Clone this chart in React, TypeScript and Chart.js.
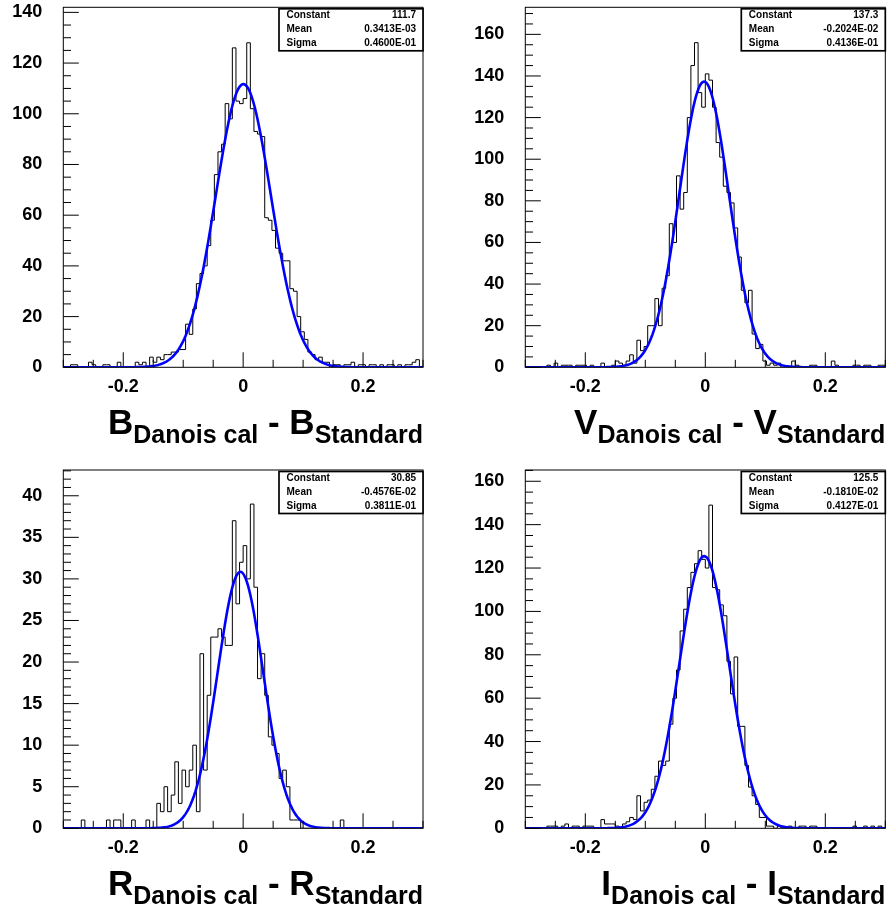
import React, { useEffect, useRef } from 'react';
import { Chart, registerables } from 'chart.js';

Chart.register(...registerables);

// ---------- data ----------
const X_MIN = -0.3;
const X_MAX = 0.3;
const X_TICKS = [-0.2, 0, 0.2];
const STAT_NAMES = ['Constant', 'Mean', 'Sigma'];
const SUB_LEFT = 'Danois cal';
const SUB_RIGHT = 'Standard';

const B_COUNTS = [
  0, 0, 1, 1, 0, 0, 0, 2, 1, 0,
  0, 1, 1, 0, 0, 2, 0, 0, 0, 0,
  2, 1, 2, 0, 4, 2, 4, 3, 5, 5,
  6, 6, 7, 7, 17, 13, 23, 33, 37, 40,
  48, 58, 76, 85, 88, 104, 98, 126, 105, 104,
  106, 128, 102, 93, 92, 91, 59, 58, 54, 47,
  45, 42, 42, 31, 30, 20, 14, 11, 6, 5,
  3, 4, 2, 2, 0, 1, 1, 0, 1, 1,
  2, 0, 1, 1, 0, 1, 1, 0, 1, 0,
  1, 1, 0, 1, 0, 1, 1, 2, 3, 0,
];
const V_COUNTS = [
  0, 0, 0, 0, 0, 0, 1, 0, 2, 0,
  1, 1, 1, 0, 1, 1, 1, 0, 1, 0,
  0, 2, 0, 0, 1, 3, 2, 1, 3, 6,
  2, 13, 8, 10, 20, 20, 33, 20, 38, 44,
  69, 60, 92, 76, 84, 120, 145, 156, 132, 125,
  141, 138, 125, 108, 101, 87, 84, 79, 67, 53,
  37, 31, 37, 16, 9, 11, 3, 1, 2, 1,
  2, 0, 0, 0, 3, 1, 0, 0, 0, 1,
  1, 0, 0, 0, 0, 3, 1, 0, 0, 0,
  0, 1, 1, 0, 1, 1, 0, 0, 1, 1,
];
const R_COUNTS = [
  0, 0, 0, 0, 0, 1, 0, 0, 0, 0,
  0, 0, 1, 0, 1, 1, 0, 0, 0, 1,
  0, 0, 0, 1, 0, 0, 3, 2, 5, 2,
  4, 8, 3, 7, 5, 7, 10, 2, 21, 7,
  16, 23, 23, 24, 23, 22, 22, 37, 27, 32,
  34, 30, 39, 29, 18, 21, 16, 11, 10, 9,
  6, 7, 5, 1, 1, 1, 0, 0, 0, 0,
  0, 0, 0, 0, 0, 0, 0, 1, 0, 0,
  0, 0, 0, 0, 0, 0, 0, 0, 0, 0,
  0, 0, 0, 0, 0, 0, 0, 0, 0, 0,
];
const I_COUNTS = [
  0, 0, 0, 0, 0, 0, 1, 1, 1, 0,
  1, 2, 0, 1, 1, 0, 1, 1, 1, 0,
  0, 4, 2, 2, 2, 1, 0, 2, 3, 5,
  4, 15, 8, 12, 13, 18, 24, 31, 29, 31,
  48, 60, 73, 91, 101, 111, 118, 122, 128, 124,
  120, 149, 111, 110, 103, 98, 77, 62, 79, 47,
  47, 29, 19, 15, 11, 5, 5, 1, 1, 0,
  1, 0, 0, 1, 0, 0, 1, 1, 0, 1,
  1, 0, 0, 0, 0, 0, 0, 0, 0, 0,
  0, 1, 0, 0, 1, 0, 1, 0, 1, 0,
];

// fit parameters: constant, mean, sigma
const B_FIT = [111.7, 0.3413e-3, 0.46e-1];
const V_FIT = [137.3, -0.2024e-2, 0.4136e-1];
const R_FIT = [30.85, -0.4576e-2, 0.3811e-1];
const I_FIT = [125.5, -0.181e-2, 0.4127e-1];

const B_STATS = ['111.7', '0.3413E-03', '0.4600E-01'];
const V_STATS = ['137.3', '-0.2024E-02', '0.4136E-01'];
const R_STATS = ['30.85', '-0.4576E-02', '0.3811E-01'];
const I_STATS = ['125.5', '-0.1810E-02', '0.4127E-01'];

const B_YTICKS = [0, 20, 40, 60, 80, 100, 120, 140];
const V_YTICKS = [0, 20, 40, 60, 80, 100, 120, 140, 160];
const R_YTICKS = [0, 5, 10, 15, 20, 25, 30, 35, 40];
const I_YTICKS = [0, 20, 40, 60, 80, 100, 120, 140, 160];

// ---------- rendering ----------
const FONT = '"Liberation Sans", Arial, sans-serif';

const decorPlugin = {
  id: 'decor',
  afterDraw(chart: any, _args: any, o: any) {
    const { ctx, chartArea: a, scales } = chart;
    const xs = scales.x;
    const ys = scales.y;
    ctx.save();
    ctx.strokeStyle = '#000';
    ctx.lineWidth = 1;
    ctx.strokeRect(a.left, a.top, a.right - a.left, a.bottom - a.top);

    ctx.beginPath();
    const nMinor = Math.round(o.yMajor / o.yMinor);
    for (let k = 0; k * o.yMinor <= o.yMax + 1e-9; k++) {
      const y = ys.getPixelForValue(k * o.yMinor);
      const len = k % nMinor === 0 ? 15.5 : 7.7;
      ctx.moveTo(a.left, y);
      ctx.lineTo(a.left + len, y);
    }
    for (let k = -6; k <= 6; k++) {
      const x = xs.getPixelForValue(k * 0.05);
      const len = k % 4 === 0 ? 15 : 7.5;
      ctx.moveTo(x, a.bottom);
      ctx.lineTo(x, a.bottom - len);
    }
    ctx.stroke();

    // stats box
    const bw = 144;
    const bh = 42;
    const bx = a.right - bw;
    const by = a.top + 1.5;
    ctx.fillStyle = '#fff';
    ctx.fillRect(bx, by, bw, bh);
    ctx.lineWidth = 1.7;
    ctx.strokeRect(bx, by, bw, bh);
    ctx.fillStyle = '#000';
    ctx.font = `bold 10px ${FONT}`;
    ctx.textBaseline = 'middle';
    STAT_NAMES.forEach((n, i) => {
      const cy = by + 6.5 + 14 * i;
      ctx.textAlign = 'left';
      ctx.fillText(n, bx + 7.5, cy);
      ctx.textAlign = 'right';
      ctx.fillText(o.stats[i], bx + bw - 7, cy);
    });

    // axis title
    const big = `bold 35px ${FONT}`;
    const sub = `bold 25px ${FONT}`;
    const parts: [string, string, boolean][] = [
      [o.letter, big, false],
      [SUB_LEFT, sub, true],
      [' - ', big, false],
      [o.letter, big, false],
      [SUB_RIGHT, sub, true],
    ];
    let total = 0;
    const widths = parts.map(([t, f]) => {
      ctx.font = f;
      const w = ctx.measureText(t).width;
      total += w;
      return w;
    });
    let x = a.right - total;
    ctx.textAlign = 'left';
    ctx.textBaseline = 'alphabetic';
    parts.forEach(([t, f, isSub], i) => {
      ctx.font = f;
      ctx.fillText(t, x, a.bottom + (isSub ? 75.8 : 66.4));
      x += widths[i];
    });
    ctx.restore();
  },
};

type PanelProps = {
  left: number;
  top: number;
  width: number;
  height: number;
  area: { left: number; right: number; top: number; bottom: number };
  counts: number[];
  fit: number[];
  stats: string[];
  yTicks: number[];
  yMax: number;
  yMinor: number;
  letter: string;
};

function Panel(p: PanelProps) {
  const ref = useRef<HTMLCanvasElement>(null);
  useEffect(() => {
    if (!ref.current) return;
    const binW = (X_MAX - X_MIN) / p.counts.length;
    const hist = p.counts.map((v, i) => ({ x: X_MIN + i * binW, y: v }));
    hist.push({ x: X_MAX, y: p.counts[p.counts.length - 1] });
    const [c, m, s] = p.fit;
    const nS = 300;
    const fitPts = [];
    for (let k = 0; k <= nS; k++) {
      const x = X_MIN + ((X_MAX - X_MIN) * k) / nS;
      fitPts.push({ x, y: c * Math.exp(-0.5 * ((x - m) / s) ** 2) });
    }
    const tickFont = { family: FONT, weight: 'bold' as const, size: 18 };
    const chart = new Chart(ref.current, {
      type: 'line',
      data: {
        datasets: [
          {
            data: fitPts,
            borderColor: '#0000ff',
            borderWidth: 2.6,
            pointRadius: 0,
            fill: false,
            tension: 0,
            order: 0,
          },
          {
            data: hist,
            borderColor: '#000',
            borderWidth: 1,
            pointRadius: 0,
            fill: false,
            stepped: true,
            order: 1,
          },
        ],
      },
      options: {
        responsive: false,
        animation: false,
        events: [],
        layout: {
          padding: { left: 0, top: p.area.top, right: p.width - p.area.right, bottom: 0 },
        },
        plugins: {
          legend: { display: false },
          tooltip: { enabled: false },
          decor: {
            yMax: p.yMax,
            yMinor: p.yMinor,
            yMajor: p.yTicks[1] - p.yTicks[0],
            stats: p.stats,
            letter: p.letter,
          },
        } as any,
        scales: {
          x: {
            type: 'linear',
            min: X_MIN,
            max: X_MAX,
            grid: { display: false, drawTicks: false },
            border: { display: false },
            ticks: {
              autoSkip: false,
              maxRotation: 0,
              padding: 9,
              color: '#000',
              font: tickFont,
              callback: (v: any) => String(v),
            },
            afterBuildTicks: (sc: any) => {
              sc.ticks = X_TICKS.map((v) => ({ value: v }));
            },
            afterFit: (sc: any) => {
              sc.height = p.height - p.area.bottom;
              sc.paddingLeft = 0;
              sc.paddingRight = 0;
              sc.paddingTop = 0;
              sc.paddingBottom = 0;
            },
          },
          y: {
            type: 'linear',
            min: 0,
            max: p.yMax,
            grid: { display: false, drawTicks: false },
            border: { display: false },
            ticks: {
              autoSkip: false,
              padding: 21,
              color: '#000',
              font: tickFont,
              callback: (v: any) => String(v),
            },
            afterBuildTicks: (sc: any) => {
              sc.ticks = p.yTicks.map((v) => ({ value: v }));
            },
            afterFit: (sc: any) => {
              sc.width = p.area.left;
              sc.paddingLeft = 0;
              sc.paddingRight = 0;
              sc.paddingTop = 0;
              sc.paddingBottom = 0;
            },
          },
        } as any,
      },
      plugins: [decorPlugin],
    });
    return () => chart.destroy();
  }, []);
  return (
    <canvas
      ref={ref}
      width={p.width}
      height={p.height}
      style={{ position: 'absolute', left: p.left, top: p.top, width: p.width, height: p.height }}
    />
  );
}

export default function App() {
  const topArea = { left: 63.3, right: 423, top: 7.3, bottom: 367.3 };
  const topAreaR = { left: 82.3, right: 442.3, top: 7.3, bottom: 367.3 };
  const botArea = { left: 63.3, right: 423, top: 12, bottom: 370.3 };
  const botAreaR = { left: 82.3, right: 442.3, top: 12, bottom: 370.3 };
  return (
    <div style={{ position: 'absolute', left: 0, top: 0, width: 887, height: 916, background: '#fff', overflow: 'hidden' }}>
      <Panel left={0} top={0} width={443} height={458} area={topArea} counts={B_COUNTS} fit={B_FIT} stats={B_STATS} yTicks={B_YTICKS} yMax={142} yMinor={5} letter="B" />
      <Panel left={443} top={0} width={444} height={458} area={topAreaR} counts={V_COUNTS} fit={V_FIT} stats={V_STATS} yTicks={V_YTICKS} yMax={173} yMinor={5} letter="V" />
      <Panel left={0} top={458} width={443} height={458} area={botArea} counts={R_COUNTS} fit={R_FIT} stats={R_STATS} yTicks={R_YTICKS} yMax={43.1} yMinor={1} letter="R" />
      <Panel left={443} top={458} width={444} height={458} area={botAreaR} counts={I_COUNTS} fit={I_FIT} stats={I_STATS} yTicks={I_YTICKS} yMax={165.2} yMinor={5} letter="I" />
    </div>
  );
}
